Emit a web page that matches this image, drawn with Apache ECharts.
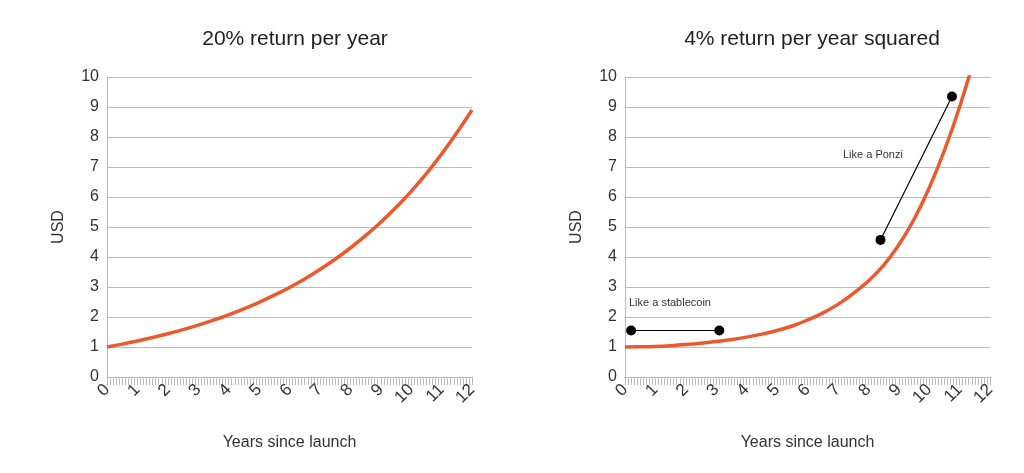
<!DOCTYPE html>
<html>
<head>
<meta charset="utf-8">
<script src="https://cdn.jsdelivr.net/npm/echarts@6/dist/echarts.min.js"></script>
<style>html,body{margin:0;padding:0;background:#fff}#c{width:1024px;height:473px}</style>
</head>
<body>
<div id="c"></div>
<script>
// years sampled every half year
var years = [0,0.5,1,1.5,2,2.5,3,3.5,4,4.5,5,5.5,6,6.5,7,7.5,8,8.5,9,9.5,10,10.5,11,11.5,12];
var usdLeft = [1,1.095,1.2,1.315,1.44,1.577,1.728,1.893,2.074,2.27,2.488,2.727,2.986,3.27,3.583,3.925,4.3,4.71,5.16,5.65,6.19,6.78,7.43,8.14,8.9];
var usdRight = [1,1.005,1.02,1.045,1.08,1.125,1.18,1.25,1.33,1.43,1.55,1.7,1.9,2.13,2.42,2.78,3.2,3.72,4.4,5.25,6.3,7.55,9.0,10.7,12.8];
var stableX = [0.2, 3.1], stableY = [1.55, 1.55];
var ponziX = [8.4, 10.75], ponziY = [4.57, 9.35];

function pairs(xs, ys) { return xs.map(function (x, i) { return [x, ys[i]]; }); }

var chart = echarts.init(document.getElementById('c'));
var font = 'Liberation Sans';
function xAx(idx) {
    return {
        gridIndex: idx, type: 'value', min: 0, max: 12, interval: 1,
        name: 'Years since launch', nameLocation: 'middle', nameGap: 58,
        nameTextStyle: {fontFamily: font, fontSize: 16, color: '#333'},
        axisLine: {lineStyle: {color: '#bbb'}},
        axisTick: {show: true, length: 8, lineStyle: {color: '#bbb'}},
        minorTick: {show: true, splitNumber: 10, length: 8, lineStyle: {color: '#bbb'}},
        axisLabel: {rotate: 45, fontFamily: font, fontSize: 17, color: '#333', margin: 10},
        splitLine: {show: false}
    };
}
function yAx(idx) {
    return {
        gridIndex: idx, type: 'value', min: 0, max: 10, interval: 1,
        name: 'USD', nameLocation: 'middle', nameGap: 40,
        nameTextStyle: {fontFamily: font, fontSize: 16, color: '#333'},
        axisLine: {show: true, lineStyle: {color: '#bbb'}},
        axisTick: {show: false},
        axisLabel: {fontFamily: font, fontSize: 16, color: '#333'},
        splitLine: {lineStyle: {color: '#bbb'}}
    };
}
var option = {
    animation: false,
    title: [
        {text: '20% return per year', left: 290, top: 24, textAlign: 'center', textStyle: {fontFamily: font, fontSize: 21, fontWeight: 'normal', color: '#222'}},
        {text: '4% return per year squared', left: 807, top: 24, textAlign: 'center', textStyle: {fontFamily: font, fontSize: 21, fontWeight: 'normal', color: '#222'}}
    ],
    grid: [
        {left: 107, right: 552, top: 77, bottom: 96},
        {left: 625, right: 34, top: 77, bottom: 96}
    ],
    xAxis: [xAx(0), xAx(1)],
    yAxis: [yAx(0), yAx(1)],
    series: [
        {type: 'line', xAxisIndex: 0, yAxisIndex: 0, smooth: 0.4, showSymbol: false, data: pairs(years, usdLeft), lineStyle: {color: '#ea5a2e', width: 3.5}},
        {type: 'line', xAxisIndex: 1, yAxisIndex: 1, smooth: 0.4, showSymbol: false, clip: true, data: pairs(years, usdRight), lineStyle: {color: '#ea5a2e', width: 3.5}},
        {type: 'line', xAxisIndex: 1, yAxisIndex: 1, data: pairs(stableX, stableY), symbol: 'circle', symbolSize: 10,
            itemStyle: {color: '#000'}, lineStyle: {color: '#000', width: 1.2}},
        {type: 'line', xAxisIndex: 1, yAxisIndex: 1, data: pairs(ponziX, ponziY), symbol: 'circle', symbolSize: 10,
            itemStyle: {color: '#000'}, lineStyle: {color: '#000', width: 1.2}}
    ],
    graphic: [
        {type: 'text', left: 629, top: 297, style: {text: 'Like a stablecoin', font: '11px Liberation Sans', fill: '#333'}},
        {type: 'text', left: 843, top: 149, style: {text: 'Like a Ponzi', font: '11px Liberation Sans', fill: '#333'}}
    ]
};
chart.setOption(option);
</script>
</body>
</html>
